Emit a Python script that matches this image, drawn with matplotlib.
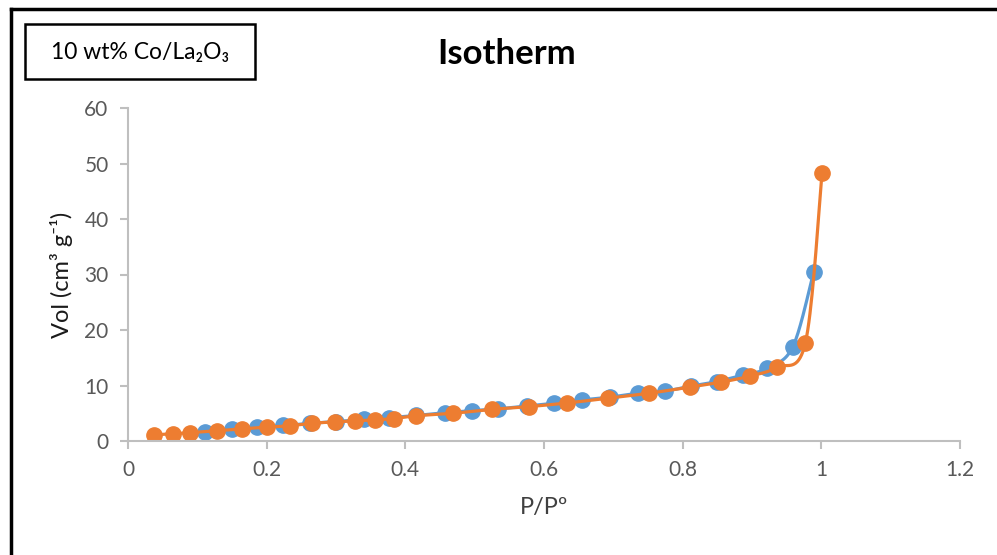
import numpy as np
import matplotlib.pyplot as plt
from matplotlib.lines import Line2D
from matplotlib.patches import Rectangle

plt.rcParams['font.family'] = ['Lato', 'DejaVu Sans']

# desorption (blue) and adsorption (orange) branches
p_blue = [0.111, 0.150, 0.186, 0.224, 0.263, 0.300, 0.340, 0.376, 0.416, 0.457,
          0.496, 0.534, 0.575, 0.614, 0.655, 0.695, 0.735, 0.775, 0.812, 0.849,
          0.887, 0.922, 0.959, 0.989]
v_blue = [1.7, 2.1, 2.5, 2.8, 3.2, 3.5, 3.9, 4.2, 4.6, 5.1,
          5.45, 5.8, 6.3, 6.8, 7.4, 7.9, 8.6, 9.0, 9.9, 10.7,
          11.9, 13.1, 17.0, 30.5]

p_orange = [0.037, 0.065, 0.090, 0.128, 0.165, 0.200, 0.234, 0.266, 0.299, 0.328,
            0.356, 0.384, 0.416, 0.469, 0.525, 0.579, 0.633, 0.692, 0.751, 0.810,
            0.855, 0.897, 0.936, 0.977, 1.001]
v_orange = [1.1, 1.3, 1.5, 1.85, 2.2, 2.5, 2.75, 3.2, 3.45, 3.65,
            3.8, 4.05, 4.55, 5.0, 5.7, 6.2, 6.85, 7.7, 8.6, 9.7,
            10.6, 11.7, 13.3, 17.7, 48.2]

xticks = [0, 0.2, 0.4, 0.6, 0.8, 1, 1.2]
xtick_labels = ['0', '0.2', '0.4', '0.6', '0.8', '1', '1.2']
yticks = [0, 10, 20, 30, 40, 50, 60]

XMAX, YMAX = 1.2, 60


def smooth(x, y, n=20):
    # Excel-like smoothing: Bezier through points, done in screen-scaled space
    sx = np.asarray(x) / XMAX * 832
    sy = np.asarray(y) / YMAX * 333
    pts = np.column_stack([sx, sy])
    pts = np.vstack([pts[0], pts, pts[-1]])
    out = []
    t = np.linspace(0, 1, n)[:, None]
    for i in range(1, len(pts) - 2):
        p0, p1, p2, p3 = pts[i - 1], pts[i], pts[i + 1], pts[i + 2]
        c1 = p1 + (p2 - p0) / 6
        c2 = p2 - (p3 - p1) / 6
        seg = ((1 - t) ** 3) * p1 + 3 * ((1 - t) ** 2) * t * c1 + 3 * (1 - t) * t ** 2 * c2 + t ** 3 * p2
        out.append(seg)
    out = np.vstack(out)
    return out[:, 0] / 832 * XMAX, out[:, 1] / 333 * YMAX


fig = plt.figure(figsize=(9.97, 5.55), dpi=100)
ax = fig.add_axes([128 / 997, 1 - 441 / 555, 832 / 997, 333 / 555])

blue = '#5B9BD5'
orange = '#ED7D31'
for px, vy, c in [(p_blue, v_blue, blue), (p_orange, v_orange, orange)]:
    sx, sy = smooth(px, vy)
    ax.plot(sx, sy, color=c, lw=2.3, solid_capstyle='round')
    ax.plot(px, vy, 'o', color=c, ms=11, mec=c)

ax.set_xlim(0, XMAX)
ax.set_ylim(0, YMAX)
ax.set_xticks(xticks)
ax.set_xticklabels(xtick_labels)
ax.set_yticks(yticks)

gray = '#BFBFBF'
for s in ['top', 'right']:
    ax.spines[s].set_visible(False)
for s in ['left', 'bottom']:
    ax.spines[s].set_color(gray)
    ax.spines[s].set_linewidth(1.5)
ax.tick_params(colors='#595959', labelsize=15, length=6, width=1.5, pad=8)
ax.tick_params(axis='both', color=gray)

ax.set_xlabel('P/Pº', fontsize=17, color='#404040', labelpad=12)
ax.set_ylabel('Vol (cm³ g⁻¹)', fontsize=17, color='#1a1a1a', labelpad=8)

fig.text(507 / 997, 1 - 54 / 555, 'Isotherm', fontsize=25, fontweight='bold',
         ha='center', va='center')

# sample label box
fig.add_artist(Rectangle((25 / 997, 1 - 79 / 555), 230 / 997, 55 / 555,
                         transform=fig.transFigure, fill=False, ec='black', lw=1.8))
fig.text(140 / 997, 1 - 52 / 555, '10 wt% Co/La₂O₃', fontsize=16.5,
         ha='center', va='center')

# outer frame (top and left edges)
fig.add_artist(Line2D([11 / 997, 1], [1 - 9 / 555, 1 - 9 / 555],
                      transform=fig.transFigure, color='black', lw=2.5))
fig.add_artist(Line2D([11 / 997, 11 / 997], [0, 1 - 9 / 555],
                      transform=fig.transFigure, color='black', lw=2.5))

fig.savefig('out.png', dpi=100)
